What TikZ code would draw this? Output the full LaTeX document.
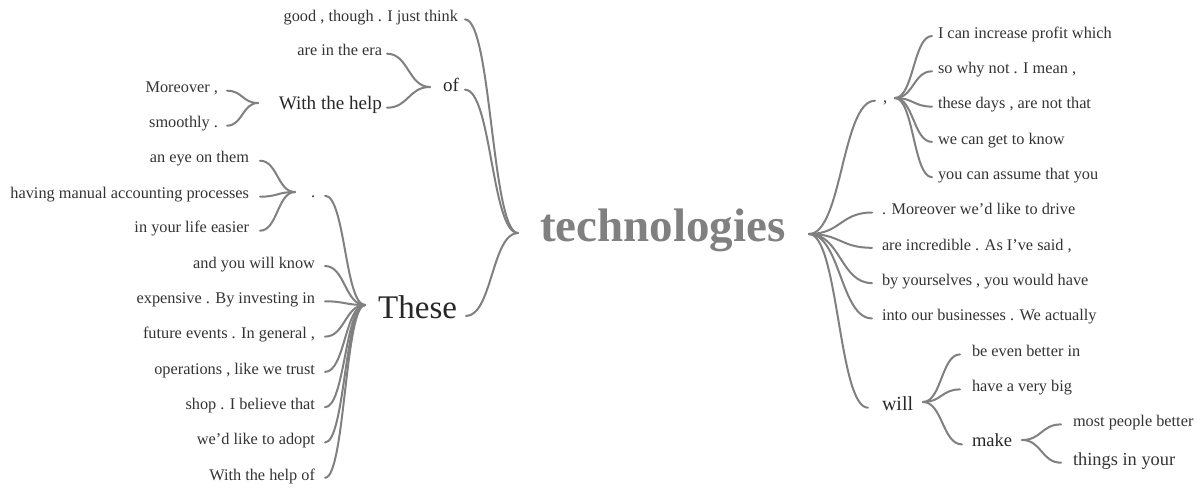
\documentclass[tikz,border=0pt]{standalone}
\usepackage{fontspec}
\setmainfont{Liberation Serif}
\usetikzlibrary{calc}
\definecolor{linkc}{HTML}{808080}
\definecolor{leafc}{HTML}{333333}
\definecolor{midc}{HTML}{282828}
\definecolor{rootc}{HTML}{808080}
\begin{document}
\begin{tikzpicture}[x=1pt,y=-1pt,
  every node/.style={inner sep=0pt, outer sep=0pt},
  leaf/.style={font=\fontsize{16.3}{18}\selectfont, text=leafc},
  leafL/.style={leaf, anchor=base east},
  leafR/.style={leaf, anchor=base west},
  midw/.style={text=midc},
  link/.style={draw=linkc, line width=2pt, line cap=round},
  wt/.style={to path={let \p1=(\tikztostart), \p2=(\tikztotarget) in
     .. controls ({(\x1+\x2)/2},\y1) and ({(\x1+\x2)/2},\y2) .. (\tikztotarget)}}
]
\useasboundingbox (0,0) rectangle (1202,489);

% root
\node[anchor=base west, font=\fontsize{47}{50}\selectfont\bfseries, text=rootc] (root) at (540,241) {technologies};
\coordinate (rootL) at (518,233);
\coordinate (rootR) at (809,234);

% left first level
\node[leafL] (good) at (458,21.7) {good , though . I just think};
\node[midw, anchor=base east, font=\fontsize{19}{21}\selectfont] (of) at (459,92) {of};
\node[midw, anchor=base east, font=\fontsize{33}{36}\selectfont] (these) at (457,318.3) {These};
\coordinate (ofL) at (430,87);
\coordinate (theseL) at (365,305);

% children of "of"
\node[leafL] (era) at (382,56) {are in the era};
\node[midw, anchor=base east, font=\fontsize{19.1}{21}\selectfont] (help) at (382,110) {With the help};
\coordinate (helpL) at (258,103);
\node[leafL] (moreover) at (218,93) {Moreover ,};
\node[leafL] (smoothly) at (218,128) {smoothly .};

% children of "These"
\node[leafR] (dot) at (311,198) {.};
\coordinate (dotL) at (295,192);
\node[leafL] (eye) at (249,163) {an eye on them};
\node[leafL] (having) at (249,199) {having manual accounting processes};
\node[leafL] (life) at (249,233) {in your life easier};

\node[leafL] (t1) at (315,268.3) {and you will know};
\node[leafL] (t2) at (315,303.6) {expensive . By investing in};
\node[leafL] (t3) at (315,338.9) {future events . In general ,};
\node[leafL] (t4) at (315,374.2) {operations , like we trust};
\node[leafL] (t5) at (315,409.5) {shop . I believe that};
\node[leafL] (t6) at (315,444.8) {we’d like to adopt};
\node[leafL] (t7) at (315,480.1) {With the help of};

% right side
\node[leafR] (comma) at (883,103) {,};
\coordinate (commaR) at (895,98);
\node[leafR] (r1) at (938,38.3) {I can increase profit which};
\node[leafR] (r2) at (938,73.6) {so why not . I mean ,};
\node[leafR] (r3) at (938,108.9) {these days , are not that};
\node[leafR] (r4) at (938,144.2) {we can get to know};
\node[leafR] (r5) at (938,179.5) {you can assume that you};

\node[leafR] (m1) at (882,214.8) {. Moreover we’d like to drive};
\node[leafR] (m2) at (882,250.1) {are incredible . As I’ve said ,};
\node[leafR] (m3) at (882,285.4) {by yourselves , you would have};
\node[leafR] (m4) at (882,320.7) {into our businesses . We actually};

\node[midw, anchor=base west, font=\fontsize{20}{22}\selectfont] (will) at (882,410) {will};
\coordinate (willR) at (923,402);
\node[leafR] (w1) at (972,356.7) {be even better in};
\node[leafR] (w2) at (972,391.7) {have a very big};
\node[midw, anchor=base west, font=\fontsize{18.5}{21}\selectfont] (make) at (972,446.7) {make};
\coordinate (makeR) at (1022,440);
\node[leafR] (k1) at (1073,426.7) {most people better};
\node[leafR, font=\fontsize{18.4}{21}\selectfont] (k2) at (1073,465) {things in your};

% links left
\draw[link] ([xshift=7pt]good.mid east) to[wt] (rootL);
\draw[link] ([xshift=6pt]of.mid east) to[wt] (rootL);
\draw[link] ([xshift=9pt]these.mid east) to[wt] (rootL);
\draw[link] ([xshift=5pt]era.mid east) to[wt] (ofL);
\draw[link] ([xshift=5pt]help.mid east) to[wt] (ofL);
\draw[link] ([xshift=9pt]moreover.mid east) to[wt] (helpL);
\draw[link] ([xshift=9pt]smoothly.mid east) to[wt] (helpL);
\draw[link] ([xshift=10pt]dot.mid east) to[wt] (theseL);
\draw[link] ([xshift=11pt]eye.mid east) to[wt] (dotL);
\draw[link] ([xshift=11pt]having.mid east) to[wt] (dotL);
\draw[link] ([xshift=11pt]life.mid east) to[wt] (dotL);
\foreach \n in {t1,t2,t3,t4,t5,t6,t7}
  \draw[link] ([xshift=10pt]\n.mid east) to[wt] (theseL);

% links right
\draw[link] (rootR) to[wt] ([xshift=-8pt]comma.mid west);
\foreach \n in {r1,r2,r3,r4,r5}
  \draw[link] (commaR) to[wt] ([xshift=-6pt]\n.mid west);
\foreach \n in {m1,m2,m3,m4}
  \draw[link] (rootR) to[wt] ([xshift=-10pt]\n.mid west);
\draw[link] (rootR) to[wt] ([xshift=-14pt]will.mid west);
\draw[link] (willR) to[wt] ([xshift=-12pt]w1.mid west);
\draw[link] (willR) to[wt] ([xshift=-12pt]w2.mid west);
\draw[link] (willR) to[wt] ([xshift=-10pt]make.mid west);
\draw[link] (makeR) to[wt] ([xshift=-12pt]k1.mid west);
\draw[link] (makeR) to[wt] ([xshift=-12pt]k2.mid west);
\end{tikzpicture}
\end{document}
